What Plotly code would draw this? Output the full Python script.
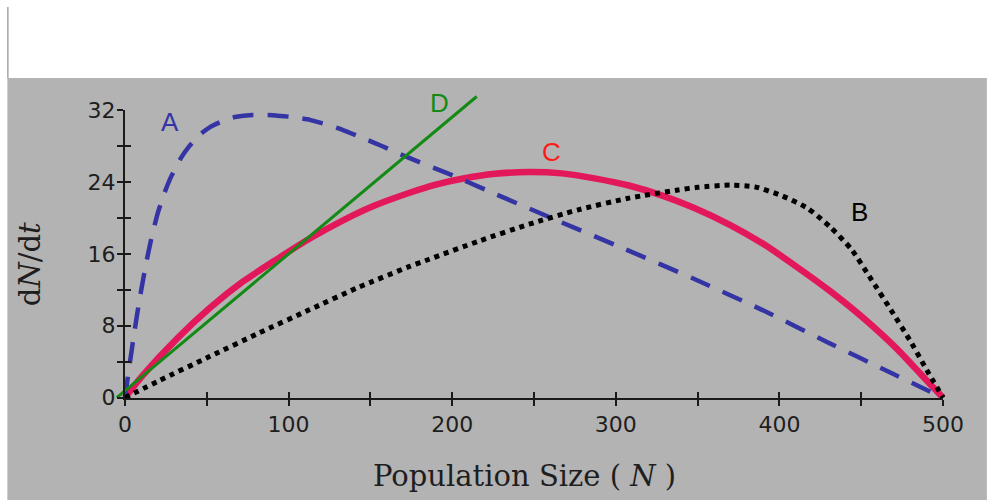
import plotly.graph_objects as go

# ---------------- data ----------------
A_N = [0, 2, 6, 9, 13, 16, 20, 24, 28, 34, 39, 46, 52, 60, 68, 78, 92, 103, 113, 123, 133, 145,
       157, 168, 180, 198, 222, 263, 306, 348, 389, 429, 470, 500]
A_y = [0, 2.6, 7.6, 11.0, 15.0, 17.6, 20.5, 22.7, 24.5, 26.6, 27.9, 29.3, 30.1, 30.8, 31.25, 31.45,
       31.4, 31.2, 30.9, 30.4, 29.8, 28.9, 28.0, 27.1, 26.2, 24.9, 23.0, 19.8, 16.5, 13.2, 9.8, 6.2,
       2.6, 0]

B_N = [0, 21, 52, 82, 113, 143, 174, 186, 216, 247, 277, 308, 338, 350, 370, 385, 401, 417, 431,
       444, 456, 468, 480, 490, 500]
B_y = [0, 1.9, 4.6, 7.2, 9.8, 12.3, 14.6, 15.4, 17.4, 19.3, 20.9, 22.2, 23.1, 23.4, 23.65, 23.45,
       22.5, 21.1, 19.0, 16.5, 13.2, 9.8, 6.3, 3.1, 0]

C_N = [0, 11, 32, 52, 72, 92, 113, 133, 153, 174, 190, 206, 226, 247, 267, 287, 308, 328, 348,
       370, 391, 411, 431, 452, 472, 488, 500]
C_y = [0, 2.5, 6.6, 10.0, 12.9, 15.3, 17.7, 19.7, 21.4, 22.8, 23.7, 24.35, 24.9, 25.1, 24.95, 24.4,
       23.6, 22.5, 21.1, 19.2, 17.0, 14.5, 11.85, 8.75, 5.4, 2.3, 0]

D_N = [-5, 215]
D_y = [0, 33.5]

x_ticks = [0, 100, 200, 300, 400, 500]
x_minor = [50, 150, 250, 350, 450]
y_ticks = [0, 8, 16, 24, 32]
y_minor = [4, 12, 20, 28]

labels = ["A", "B", "C", "D"]
label_N = [27.4, 448.8, 260.4, 192.4]
label_y = [30.7, 20.7, 27.3, 32.8]
label_colors = ["#3535a6", "#000000", "#ff1a1a", "#138a13"]

# ---------------- geometry ----------------
W, H = 990, 500
ml, mr, mt, mb = 110, 30, 80, 90
plot_w = W - ml - mr
plot_h = H - mt - mb
px0, px500 = 125.0, 946.0      # pixel columns of N=0 and N=500
py0, py32 = 397.7, 110.0       # pixel rows of y=0 and y=32

kx = (x_ticks[-1] - x_ticks[0]) / (px500 - px0)
ky = (y_ticks[-1] - y_ticks[0]) / (py0 - py32)
x_range = [(ml - px0) * kx, (W - mr - px0) * kx]
y_range = [(py0 - (H - mb)) * ky, (py0 - mt) * ky]
x_dom = [(px0 - ml) / plot_w, (px500 - ml) / plot_w]
y_dom = [((H - mb) - py0) / plot_h, ((H - mb) - py32) / plot_h]


def paper_x(px):
    return (px - ml) / plot_w


def paper_y(py):
    return ((H - mb) - py) / plot_h


AX = "#1a1a1a"
tick_font = dict(family="DejaVu Sans", size=22, color="#1e1e1e")

fig = go.Figure()

fig.add_trace(go.Scatter(x=C_N, y=C_y, mode="lines", name="C",
                         line=dict(color="#e3185b", width=6.5, shape="spline", smoothing=0.6)))
fig.add_trace(go.Scatter(x=A_N, y=A_y, mode="lines", name="A",
                         line=dict(color="#3434a4", width=4.5, dash="21px,14px",
                                   shape="spline", smoothing=0.5)))
fig.add_trace(go.Scatter(x=B_N, y=B_y, mode="lines", name="B",
                         line=dict(color="#000000", width=5, dash="5px,5px",
                                   shape="spline", smoothing=0.6)))
fig.add_trace(go.Scatter(x=D_N, y=D_y, mode="lines", name="D",
                         line=dict(color="#138a13", width=3)))

# helper traces so that the display axes get drawn
for xa, ya in [("x2", "y2"), ("x3", "y2"), ("x2", "y3")]:
    fig.add_trace(go.Scatter(x=[0], y=[0], xaxis=xa, yaxis=ya, mode="markers",
                             marker=dict(size=1, opacity=0), hoverinfo="skip", showlegend=False))

annotations = []
for t, n, v, c in zip(labels, label_N, label_y, label_colors):
    annotations.append(dict(x=n, y=v, xref="x", yref="y", text=t, showarrow=False,
                            xanchor="center", yanchor="middle",
                            font=dict(family="Liberation Sans", size=26, color=c)))

annotations.append(dict(x=paper_x(526), y=paper_y(476), xref="paper", yref="paper",
                        xanchor="center", yanchor="middle",
                        text="Population Size ( <i>N</i> )", showarrow=False,
                        font=dict(family="DejaVu Serif", size=29, color="#1e1e1e")))
annotations.append(dict(x=paper_x(30), y=paper_y(264), xref="paper", yref="paper",
                        xanchor="center", yanchor="middle",
                        text="d<i>N</i>/d<i>t</i>", textangle=-90, showarrow=False,
                        font=dict(family="DejaVu Serif", size=29, color="#1e1e1e")))

shapes = [
    dict(type="rect", xref="paper", yref="paper", layer="below",
         x0=paper_x(7), x1=paper_x(W), y0=paper_y(H), y1=paper_y(78),
         fillcolor="#b3b3b3", line=dict(width=0)),
    dict(type="line", xref="paper", yref="paper", layer="below",
         x0=paper_x(7.5), x1=paper_x(7.5), y0=paper_y(7), y1=paper_y(78),
         line=dict(color="#a6a6a6", width=1.5)),
]

common_x = dict(domain=x_dom, range=[x_ticks[0], x_ticks[-1]], tickmode="array", tickvals=x_ticks,
                tickcolor=AX, tickwidth=2, ticklen=6, showgrid=False, zeroline=False)
common_y = dict(domain=y_dom, range=[y_ticks[0], y_ticks[-1]], tickmode="array", tickvals=y_ticks,
                tickcolor=AX, tickwidth=2, ticklen=6, showgrid=False, zeroline=False)

fig.update_layout(
    width=W, height=H,
    margin=dict(l=ml, r=mr, t=mt, b=mb),
    paper_bgcolor="white",
    plot_bgcolor="rgba(0,0,0,0)",
    showlegend=False,
    xaxis=dict(domain=[0, 1], range=x_range, visible=False, fixedrange=True),
    yaxis=dict(domain=[0, 1], range=y_range, visible=False, fixedrange=True),
    xaxis2=dict(common_x, anchor="y2", ticks="outside", showline=True, linecolor=AX, linewidth=2,
                tickfont=tick_font, ticklabelstandoff=0,
                minor=dict(tickvals=x_minor, ticks="outside", ticklen=6, tickwidth=2, tickcolor=AX)),
    xaxis3=dict(common_x, anchor="y2", overlaying="x2", ticks="inside", showline=False,
                showticklabels=False,
                minor=dict(tickvals=x_minor, ticks="inside", ticklen=6, tickwidth=2, tickcolor=AX)),
    yaxis2=dict(common_y, anchor="x2", ticks="outside", showline=True, linecolor=AX, linewidth=2,
                tickfont=tick_font, ticklabelstandoff=-3,
                minor=dict(tickvals=y_minor, ticks="outside", ticklen=6, tickwidth=2, tickcolor=AX)),
    yaxis3=dict(common_y, anchor="x2", overlaying="y2", ticks="inside", showline=False,
                showticklabels=False,
                minor=dict(tickvals=y_minor, ticks="inside", ticklen=6, tickwidth=2, tickcolor=AX)),
    annotations=annotations,
    shapes=shapes,
)

fig.write_html("out.html")
